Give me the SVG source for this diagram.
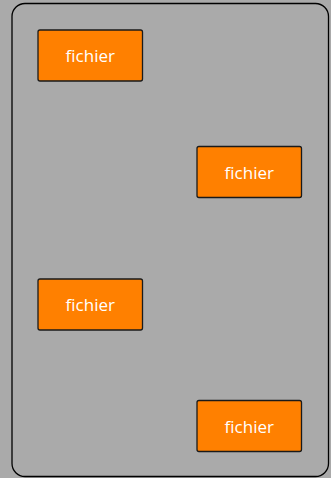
<svg xmlns="http://www.w3.org/2000/svg" width="331" height="478" viewBox="0 0 331 478">
<style>
.node rect{fill:#ff8000;stroke:#1a1a1a;stroke-width:1.3}
.node text{fill:#ffffff;font-family:"Open Sans","DejaVu Sans",sans-serif;font-size:17px;text-anchor:middle;dominant-baseline:central}
</style>
<rect x="0" y="0" width="331" height="478" fill="#aaaaaa"/>
<rect id="container" x="12" y="3.5" width="316.5" height="473" rx="13" ry="13" fill="#aaaaaa" stroke="#000" stroke-width="1.3"/>
<g id="node1" class="node"><rect x="38" y="30" width="104.5" height="51" rx="2"/><text x="90.3" y="55.5">fichier</text></g>
<g id="node2" class="node"><rect x="197" y="146.5" width="104.5" height="51" rx="2"/><text x="249.3" y="172">fichier</text></g>
<g id="node3" class="node"><rect x="38" y="279" width="104.5" height="51" rx="2"/><text x="90.3" y="304.5">fichier</text></g>
<g id="node4" class="node"><rect x="197" y="400.5" width="104.5" height="51" rx="2"/><text x="249.3" y="426">fichier</text></g>
<g id="connectors"></g>
</svg>
